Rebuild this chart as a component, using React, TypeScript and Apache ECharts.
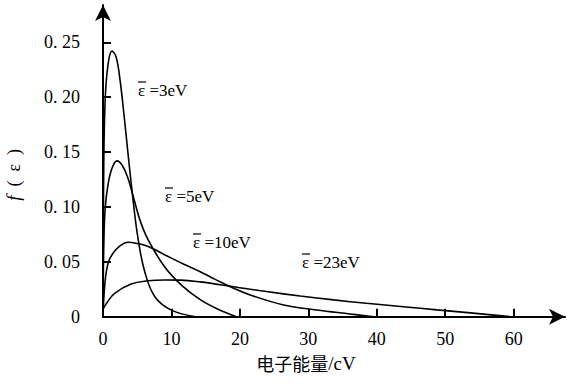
import React, { useEffect, useRef } from "react";
import * as echarts from "echarts";

const xTicks = [0, 10, 20, 30, 40, 50, 60];
const yTicks = [0, 0.05, 0.1, 0.15, 0.2, 0.25];
const yTickLabels = ["0", "0. 05", "0. 10", "0. 15", "0. 20", "0. 25"];

const curveNames = ["ε =3eV", "ε =5eV", "ε =10eV", "ε =23eV"];

const e3: number[][] = [
  [0, 0], [0.1, 0.13], [0.3, 0.195], [0.7, 0.228], [1.3, 0.242], [1.9, 0.237],
  [2.5, 0.215], [3.1, 0.182], [3.75, 0.143], [4.4, 0.106],
  [5.1, 0.072], [6.1, 0.041], [7.6, 0.018], [10, 0.006], [13.5, 0],
];
const e5: number[][] = [
  [0, 0], [0.1, 0.06], [0.3, 0.097], [0.7, 0.119], [1.3, 0.135], [2.05, 0.142],
  [2.8, 0.138], [3.6, 0.127], [4.4, 0.11], [5.4, 0.088], [6.6, 0.07],
  [9, 0.0455], [11.5, 0.0285], [14.2, 0.0155], [16.8, 0.0068], [19.5, 0],
];
const e10: number[][] = [
  [0, 0], [0.3, 0.032], [0.8, 0.05], [1.5, 0.058], [2.4, 0.064], [3.65, 0.0678],
  [5, 0.0667], [6.6, 0.064], [9, 0.0565], [11.9, 0.0475], [14.2, 0.041],
  [16.4, 0.034], [18.6, 0.0273], [21.5, 0.0198], [26.4, 0.0107], [31.2, 0.0061],
  [36.1, 0.0025], [39.5, 0],
];
const e23: number[][] = [
  [0, 0.007], [0.6, 0.013], [1.7, 0.0213], [4.1, 0.0298], [6.6, 0.0327], [9, 0.0334],
  [11.4, 0.0333], [14.2, 0.0317], [19.1, 0.0273], [23.9, 0.0229], [28.8, 0.0189],
  [33.7, 0.0153], [38.5, 0.0122], [43.9, 0.0091], [48.8, 0.0062], [53.7, 0.0035],
  [59.5, 0],
];

const labelPos = [
  [138, 90],
  [165, 196],
  [193, 242],
  [302, 262],
];

const serif = "'Liberation Serif', serif";
const cjk = "'Noto Sans CJK SC', sans-serif";

export default function App() {
  const ref = useRef<HTMLDivElement>(null);
  useEffect(() => {
    document.body.style.margin = "0";
    const chart = echarts.init(ref.current!, null, { renderer: "svg" });
    const lineSeries = (data: number[][], name: string) => ({
      type: "line",
      name,
      data,
      smooth: 0.4,
      showSymbol: false,
      lineStyle: { color: "#000", width: 1.6 },
      itemStyle: { color: "#000" },
    });
    chart.setOption({
      animation: false,
      backgroundColor: "#fff",
      textStyle: { fontFamily: serif, color: "#000" },
      grid: {
        left: 103,
        right: 2,
        top: 5,
        bottom: 68.3,
        containLabel: false,
        outerBoundsMode: "none",
      },
      xAxis: {
        type: "value",
        min: 0,
        max: 67.5,
        name: "{c|电子能量}{s|/cV}",
        nameLocation: "middle",
        nameGap: 37,
        nameTextStyle: {
          fontFamily: serif,
          fontSize: 18,
          color: "#000",
          padding: [0, 56, 0, 0],
          rich: {
            c: { fontFamily: cjk, fontSize: 18, color: "#000" },
            s: { fontFamily: serif, fontSize: 19, color: "#000" },
          },
        },
        axisLine: {
          show: true,
          symbol: ["none", "arrow"],
          symbolSize: [12, 16],
          lineStyle: { color: "#000", width: 2 },
        },
        axisTick: {
          show: true,
          inside: true,
          length: 8,
          customValues: xTicks,
          lineStyle: { color: "#000", width: 2 },
        },
        axisLabel: {
          customValues: xTicks,
          fontFamily: serif,
          fontSize: 18,
          color: "#000",
          margin: 13,
        },
        splitLine: { show: false },
      },
      yAxis: {
        type: "value",
        min: 0,
        max: 0.284,
        name: "{i|f}  (  ε  )",
        nameLocation: "middle",
        nameRotate: 90,
        nameGap: 80,
        nameTextStyle: {
          fontFamily: serif,
          fontSize: 18,
          color: "#000",
          padding: [0, 28, 0, 0],
          rich: {
            i: { fontStyle: "italic", fontFamily: serif, fontSize: 19, color: "#000" },
          },
        },
        axisLine: {
          show: true,
          symbol: ["none", "arrow"],
          symbolSize: [12, 16],
          lineStyle: { color: "#000", width: 2 },
        },
        axisTick: {
          show: true,
          inside: true,
          length: 8,
          customValues: yTicks,
          lineStyle: { color: "#000", width: 2 },
        },
        axisLabel: {
          customValues: yTicks,
          fontFamily: serif,
          fontSize: 18,
          color: "#000",
          margin: 23,
          formatter: (v: number) => {
            const i = yTicks.findIndex((t) => Math.abs(t - v) < 1e-9);
            return i >= 0 ? yTickLabels[i] : "";
          },
        },
        splitLine: { show: false },
      },
      series: [
        lineSeries(e3, curveNames[0]),
        lineSeries(e5, curveNames[1]),
        lineSeries(e10, curveNames[2]),
        lineSeries(e23, curveNames[3]),
      ],
      graphic: curveNames.map((t, i) => ({
        type: "group",
        x: labelPos[i][0],
        y: labelPos[i][1],
        children: [
          {
            type: "text",
            x: 0,
            y: 0,
            style: {
              text: t,
              fontFamily: serif,
              fontSize: 17,
              fill: "#000",
              verticalAlign: "middle",
              align: "left",
            },
          },
          {
            type: "line",
            shape: { x1: 0, y1: -8, x2: 8, y2: -8 },
            style: { stroke: "#000", lineWidth: 1.2 },
          },
        ],
      })),
    });
    return () => chart.dispose();
  }, []);
  return <div ref={ref} style={{ width: 567, height: 385 }} />;
}
